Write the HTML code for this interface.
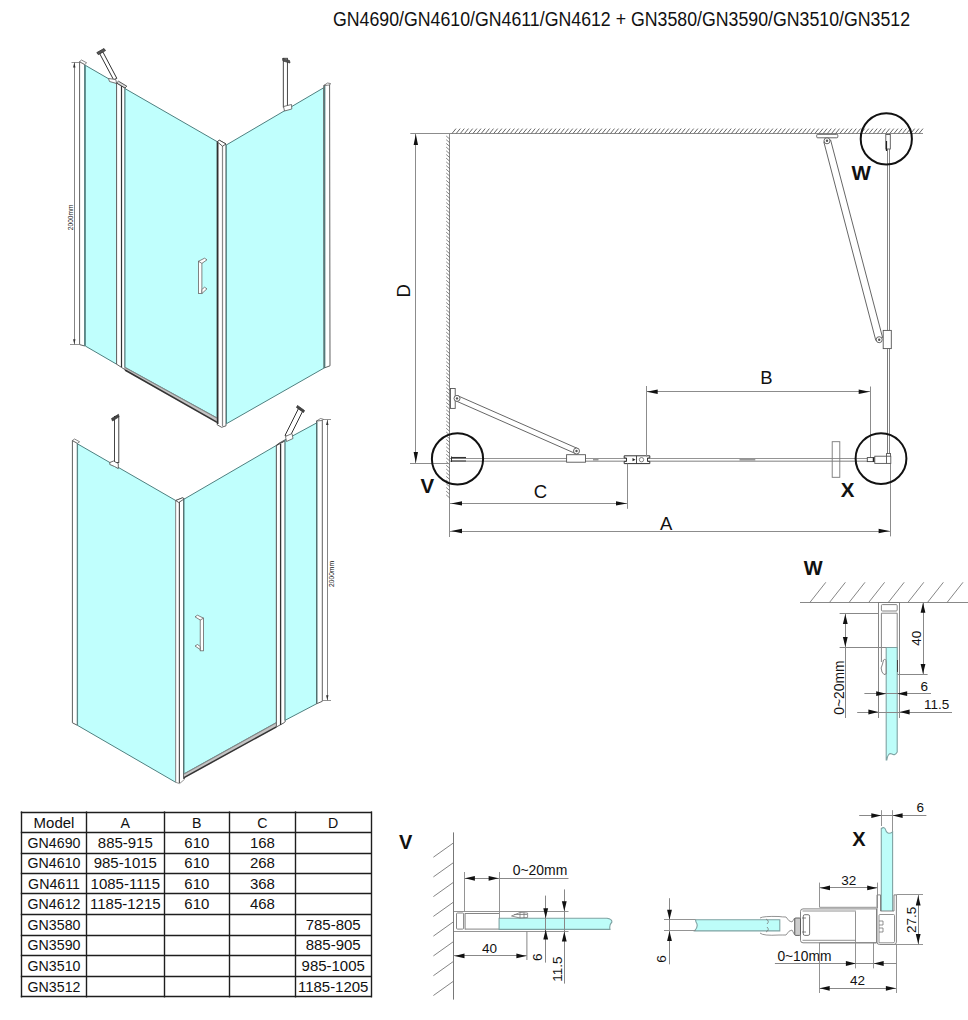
<!DOCTYPE html><html><head><meta charset="utf-8"><style>html,body{margin:0;padding:0;background:#fff;}svg{display:block;}</style></head><body>
<svg width="968" height="1020" viewBox="0 0 968 1020">
<rect width="968" height="1020" fill="#fff"/>
<text x="333.0" y="26.0" font-family="Liberation Sans" font-size="19.5" font-weight="normal" text-anchor="start" fill="#111" textLength="577" lengthAdjust="spacingAndGlyphs">GN4690/GN4610/GN4611/GN4612 + GN3580/GN3590/GN3510/GN3512</text>
<polygon points="79.6,61.7 84.8,64.5 84.8,346.0 79.6,344.6" fill="#fff" stroke="#606060" stroke-width="1.0" />
<line x1="84.8" y1="65.0" x2="84.8" y2="346.0" stroke="#5b8888" stroke-width="1.3" />
<polygon points="85.3,65.3 116.6,83.4 116.6,364.2 85.3,346.0" fill="#c0fffd" stroke="#4f8080" stroke-width="1.0" />
<polygon points="116.6,83.0 125.0,88.0 125.0,369.7 116.6,364.2" fill="#fff" stroke="#606060" stroke-width="1.0" />
<line x1="121.5" y1="86.0" x2="121.5" y2="367.0" stroke="#333" stroke-width="1.2" />
<polygon points="125.0,88.6 217.2,141.7 217.2,418.0 125.0,367.3" fill="#c0fffd" stroke="#4f8080" stroke-width="1.0" />
<polygon points="125.0,367.3 217.2,418.0 217.2,423.3 125.0,370.8" fill="#c4c4c4" stroke="none" stroke-width="1.0" />
<line x1="125.0" y1="367.6" x2="217.2" y2="418.3" stroke="#777" stroke-width="0.8" />
<line x1="125.0" y1="370.0" x2="217.2" y2="422.4" stroke="#333" stroke-width="1.5" />
<polygon points="217.2,141.7 219.5,140.3 226.0,144.0 226.0,425.8 221.6,427.3 217.2,424.8" fill="#fff" stroke="#606060" stroke-width="1.0" />
<line x1="217.8" y1="142.0" x2="217.8" y2="424.0" stroke="#222" stroke-width="1.3" />
<line x1="222.5" y1="146.0" x2="222.5" y2="426.0" stroke="#888" stroke-width="1.2" />
<polygon points="217.2,141.7 219.5,140.3 226.0,144.0 222.5,146.2" fill="#fff" stroke="#333" stroke-width="0.8" />
<polygon points="226.3,145.0 323.8,87.7 324.1,368.0 226.5,423.7" fill="#c0fffd" stroke="#4f8080" stroke-width="1.0" />
<polygon points="323.8,85.5 329.6,83.9 330.0,365.8 324.1,368.0" fill="#fff" stroke="#606060" stroke-width="1.0" />
<line x1="324.7" y1="86.0" x2="324.7" y2="368.0" stroke="#4f7777" stroke-width="1.3" />
<line x1="74.5" y1="62.2" x2="74.5" y2="344.6" stroke="#777" stroke-width="0.9" />
<line x1="71.5" y1="62.5" x2="79.6" y2="62.5" stroke="#777" stroke-width="0.8" />
<line x1="70.0" y1="344.5" x2="79.6" y2="344.5" stroke="#777" stroke-width="0.8" />
<polygon points="74.3,62.5 75.5,67.5 73.1,67.5" fill="#333" stroke="none" stroke-width="1.0" />
<polygon points="74.3,344.3 73.1,339.3 75.5,339.3" fill="#333" stroke="none" stroke-width="1.0" />
<text x="72.9" y="217.4" font-family="Liberation Sans" font-size="7.2" font-weight="normal" text-anchor="middle" fill="#111" transform="rotate(-90 72.9 217.4)" textLength="25.5" lengthAdjust="spacingAndGlyphs">2000mm</text>
<rect x="198.5" y="261.3" width="3.4" height="32.2" rx="0" fill="#fff" stroke="#666" stroke-width="0.8"/>
<polygon points="198.5,261.3 204.5,258.2 207.0,259.8 201.9,263.4" fill="#fff" stroke="#666" stroke-width="0.8" />
<polygon points="201.9,289.5 204.5,287.2 207.0,288.8 201.9,293.5" fill="#fff" stroke="#666" stroke-width="0.8" />
<polygon points="99.5,53.3 102.8,51.8 116.8,78.3 113.6,79.8" fill="#fff" stroke="#333" stroke-width="1.0" />
<polygon points="96.8,52.6 104.0,48.5 105.5,50.6 98.3,54.7" fill="#555" stroke="#333" stroke-width="0.8" />
<polygon points="108.5,78.5 115.8,79.5 116.6,83.5 109.5,81.5" fill="#fff" stroke="#555" stroke-width="0.8" />
<polygon points="79.6,61.7 81.5,60.0 86.6,62.8 84.8,64.5" fill="#fff" stroke="#555" stroke-width="0.7" />
<polygon points="116.6,83.0 118.5,81.2 126.8,86.2 125.0,88.0" fill="#ddd" stroke="#333" stroke-width="0.8" />
<polygon points="323.8,85.5 327.5,83.0 330.5,83.5 329.6,85.0" fill="#fff" stroke="#555" stroke-width="0.7" />
<rect x="283.3" y="58.3" width="4.1" height="48.7" rx="0" fill="#fff" stroke="#333" stroke-width="0.9"/>
<polygon points="282.5,58.5 289.5,60.5 290.0,63.0 283.0,61.0" fill="#555" stroke="#333" stroke-width="0.7" />
<polygon points="283.5,106.5 291.5,104.5 291.8,109.0 284.5,111.0" fill="#fff" stroke="#555" stroke-width="0.8" />
<polygon points="72.4,440.5 77.4,443.3 77.4,725.3 72.4,722.8" fill="#fff" stroke="#606060" stroke-width="1.0" />
<polygon points="72.4,440.5 74.6,439.0 79.6,441.8 77.4,443.3" fill="#fff" stroke="#555" stroke-width="0.7" />
<polygon points="77.4,443.8 175.7,500.5 175.7,782.3 77.4,725.3" fill="#c0fffd" stroke="#4f8080" stroke-width="1.0" />
<line x1="77.5" y1="444.0" x2="77.5" y2="725.0" stroke="#5b8888" stroke-width="1.1" />
<polygon points="175.7,500.5 182.5,497.8 184.3,498.8 184.3,779.5 179.6,783.6 175.7,782.3" fill="#fff" stroke="#888" stroke-width="0.9" />
<line x1="179.4" y1="502.0" x2="179.4" y2="783.0" stroke="#555" stroke-width="1.2" />
<line x1="184.0" y1="499.0" x2="184.0" y2="779.0" stroke="#222" stroke-width="1.3" />
<polygon points="175.7,500.5 182.5,497.8 184.3,498.8 178.8,502.5" fill="#fff" stroke="#333" stroke-width="0.8" />
<polygon points="184.0,499.2 276.4,445.4 276.4,722.5 184.0,773.8" fill="#c0fffd" stroke="#4f8080" stroke-width="1.0" />
<polygon points="184.0,773.8 276.4,722.5 276.4,727.5 184.0,778.6" fill="#c4c4c4" stroke="none" stroke-width="1.0" />
<line x1="184.0" y1="774.1" x2="276.4" y2="722.8" stroke="#777" stroke-width="0.8" />
<line x1="184.0" y1="777.6" x2="276.4" y2="726.8" stroke="#333" stroke-width="1.5" />
<polygon points="276.4,445.4 284.3,441.2 285.1,441.2 285.1,722.0 284.5,722.5 276.4,727.0" fill="#fff" stroke="#606060" stroke-width="1.0" />
<line x1="280.6" y1="444.0" x2="280.6" y2="725.0" stroke="#333" stroke-width="1.3" />
<polygon points="276.4,445.4 278.5,443.5 286.5,439.0 284.3,441.2" fill="#ddd" stroke="#333" stroke-width="0.8" />
<polygon points="285.1,440.0 316.5,423.0 316.5,703.8 285.1,720.3" fill="#c0fffd" stroke="#4f8080" stroke-width="1.0" />
<polygon points="316.5,421.0 322.3,419.8 322.3,701.3 316.5,703.8" fill="#fff" stroke="#606060" stroke-width="1.0" />
<line x1="316.9" y1="422.0" x2="316.9" y2="703.0" stroke="#4f7777" stroke-width="1.2" />
<polygon points="316.5,421.0 320.5,418.5 323.5,419.3 322.3,420.5" fill="#fff" stroke="#555" stroke-width="0.7" />
<line x1="327.5" y1="419.8" x2="327.5" y2="700.5" stroke="#777" stroke-width="0.9" />
<line x1="322.5" y1="419.5" x2="331.0" y2="419.5" stroke="#777" stroke-width="0.8" />
<line x1="322.5" y1="700.5" x2="331.0" y2="700.5" stroke="#777" stroke-width="0.8" />
<polygon points="327.3,420.1 328.5,425.1 326.1,425.1" fill="#333" stroke="none" stroke-width="1.0" />
<polygon points="327.3,700.2 326.1,695.2 328.5,695.2" fill="#333" stroke="none" stroke-width="1.0" />
<text x="333.6" y="574.0" font-family="Liberation Sans" font-size="7.2" font-weight="normal" text-anchor="middle" fill="#111" transform="rotate(-90 333.6 574.0)" textLength="26" lengthAdjust="spacingAndGlyphs">2000mm</text>
<rect x="200.2" y="618.2" width="3.4" height="32.6" rx="0" fill="#fff" stroke="#666" stroke-width="0.8"/>
<polygon points="203.6,618.2 197.5,615.2 195.0,616.8 200.2,620.0" fill="#fff" stroke="#666" stroke-width="0.8" />
<polygon points="200.2,646.5 197.5,644.5 195.0,646.0 200.2,649.5" fill="#fff" stroke="#666" stroke-width="0.8" />
<rect x="114.5" y="416.5" width="4.3" height="46.0" rx="0" fill="#fff" stroke="#333" stroke-width="0.9"/>
<polygon points="111.5,418.5 118.5,414.3 119.0,416.8 112.5,421.0" fill="#444" stroke="#333" stroke-width="0.7" />
<polygon points="109.8,462.5 113.5,461.0 118.3,463.5 118.3,468.6 114.5,466.5 109.8,464.5" fill="#fff" stroke="#444" stroke-width="0.8" />
<polygon points="298.5,408.5 303.0,410.5 289.5,437.5 285.0,435.5" fill="#fff" stroke="#333" stroke-width="1.0" />
<polygon points="297.5,405.5 304.5,410.5 303.5,412.5 296.5,407.5" fill="#444" stroke="#333" stroke-width="0.8" />
<polygon points="285.5,436.5 292.0,433.5 293.0,438.5 286.5,441.5" fill="#fff" stroke="#555" stroke-width="0.8" />
<line x1="410.3" y1="133.5" x2="923.0" y2="133.5" stroke="#8c8c8c" stroke-width="1.1" />
<path d="M452.0 133.5L456.0 128.6 M456.2 133.5L460.2 128.6 M460.3 133.5L464.3 128.6 M464.5 133.5L468.5 128.6 M468.7 133.5L472.7 128.6 M472.9 133.5L476.9 128.6 M477.0 133.5L481.0 128.6 M481.2 133.5L485.2 128.6 M485.4 133.5L489.4 128.6 M489.5 133.5L493.5 128.6 M493.7 133.5L497.7 128.6 M497.9 133.5L501.9 128.6 M502.0 133.5L506.0 128.6 M506.2 133.5L510.2 128.6 M510.4 133.5L514.4 128.6 M514.6 133.5L518.6 128.6 M518.7 133.5L522.7 128.6 M522.9 133.5L526.9 128.6 M527.1 133.5L531.1 128.6 M531.2 133.5L535.2 128.6 M535.4 133.5L539.4 128.6 M539.6 133.5L543.6 128.6 M543.7 133.5L547.7 128.6 M547.9 133.5L551.9 128.6 M552.1 133.5L556.1 128.6 M556.2 133.5L560.2 128.6 M560.4 133.5L564.4 128.6 M564.6 133.5L568.6 128.6 M568.8 133.5L572.8 128.6 M572.9 133.5L576.9 128.6 M577.1 133.5L581.1 128.6 M581.3 133.5L585.3 128.6 M585.4 133.5L589.4 128.6 M589.6 133.5L593.6 128.6 M593.8 133.5L597.8 128.6 M597.9 133.5L601.9 128.6 M602.1 133.5L606.1 128.6 M606.3 133.5L610.3 128.6 M610.5 133.5L614.5 128.6 M614.6 133.5L618.6 128.6 M618.8 133.5L622.8 128.6 M623.0 133.5L627.0 128.6 M627.1 133.5L631.1 128.6 M631.3 133.5L635.3 128.6 M635.5 133.5L639.5 128.6 M639.6 133.5L643.6 128.6 M643.8 133.5L647.8 128.6 M648.0 133.5L652.0 128.6 M652.2 133.5L656.2 128.6 M656.3 133.5L660.3 128.6 M660.5 133.5L664.5 128.6 M664.7 133.5L668.7 128.6 M668.8 133.5L672.8 128.6 M673.0 133.5L677.0 128.6 M677.2 133.5L681.2 128.6 M681.3 133.5L685.3 128.6 M685.5 133.5L689.5 128.6 M689.7 133.5L693.7 128.6 M693.9 133.5L697.9 128.6 M698.0 133.5L702.0 128.6 M702.2 133.5L706.2 128.6 M706.4 133.5L710.4 128.6 M710.5 133.5L714.5 128.6 M714.7 133.5L718.7 128.6 M718.9 133.5L722.9 128.6 M723.0 133.5L727.0 128.6 M727.2 133.5L731.2 128.6 M731.4 133.5L735.4 128.6 M735.6 133.5L739.6 128.6 M739.7 133.5L743.7 128.6 M743.9 133.5L747.9 128.6 M748.1 133.5L752.1 128.6 M752.2 133.5L756.2 128.6 M756.4 133.5L760.4 128.6 M760.6 133.5L764.6 128.6 M764.7 133.5L768.7 128.6 M768.9 133.5L772.9 128.6 M773.1 133.5L777.1 128.6 M777.3 133.5L781.3 128.6 M781.4 133.5L785.4 128.6 M785.6 133.5L789.6 128.6 M789.8 133.5L793.8 128.6 M793.9 133.5L797.9 128.6 M798.1 133.5L802.1 128.6 M802.3 133.5L806.3 128.6 M806.4 133.5L810.4 128.6 M810.6 133.5L814.6 128.6 M814.8 133.5L818.8 128.6 M819.0 133.5L823.0 128.6 M823.1 133.5L827.1 128.6 M827.3 133.5L831.3 128.6 M831.5 133.5L835.5 128.6 M835.6 133.5L839.6 128.6 M839.8 133.5L843.8 128.6 M844.0 133.5L848.0 128.6 M848.1 133.5L852.1 128.6 M852.3 133.5L856.3 128.6 M856.5 133.5L860.5 128.6 M860.7 133.5L864.7 128.6 M864.8 133.5L868.8 128.6 M869.0 133.5L873.0 128.6 M873.2 133.5L877.2 128.6 M877.3 133.5L881.3 128.6 M881.5 133.5L885.5 128.6 M885.7 133.5L889.7 128.6 M889.8 133.5L893.8 128.6 M894.0 133.5L898.0 128.6 M898.2 133.5L902.2 128.6 M902.4 133.5L906.4 128.6 M906.5 133.5L910.5 128.6 M910.7 133.5L914.7 128.6 M914.9 133.5L918.9 128.6 M919.0 133.5L923.0 128.6" stroke="#555" stroke-width="0.9" fill="none"/>
<line x1="449.5" y1="133.0" x2="449.5" y2="537.0" stroke="#8c8c8c" stroke-width="1.0" />
<path d="M449.9 139.2L446.2 136.0 M449.9 142.9L446.2 139.7 M449.9 146.6L446.2 143.4 M449.9 150.3L446.2 147.1 M449.9 154.0L446.2 150.8 M449.9 157.7L446.2 154.5 M449.9 161.4L446.2 158.2 M449.9 165.1L446.2 161.9 M449.9 168.8L446.2 165.6 M449.9 172.5L446.2 169.3 M449.9 176.2L446.2 173.0 M449.9 179.9L446.2 176.7 M449.9 183.6L446.2 180.4 M449.9 187.3L446.2 184.1 M449.9 191.0L446.2 187.8 M449.9 194.7L446.2 191.5 M449.9 198.4L446.2 195.2 M449.9 202.1L446.2 198.9 M449.9 205.8L446.2 202.6 M449.9 209.5L446.2 206.3 M449.9 213.2L446.2 210.0 M449.9 216.9L446.2 213.7 M449.9 220.6L446.2 217.4 M449.9 224.3L446.2 221.1 M449.9 228.0L446.2 224.8 M449.9 231.7L446.2 228.5 M449.9 235.4L446.2 232.2 M449.9 239.1L446.2 235.9 M449.9 242.8L446.2 239.6 M449.9 246.5L446.2 243.3 M449.9 250.2L446.2 247.0 M449.9 253.9L446.2 250.7 M449.9 257.6L446.2 254.4 M449.9 261.3L446.2 258.1 M449.9 265.0L446.2 261.8 M449.9 268.7L446.2 265.5 M449.9 272.4L446.2 269.2 M449.9 276.1L446.2 272.9 M449.9 279.8L446.2 276.6 M449.9 283.5L446.2 280.3 M449.9 287.2L446.2 284.0 M449.9 290.9L446.2 287.7 M449.9 294.6L446.2 291.4 M449.9 298.3L446.2 295.1 M449.9 302.0L446.2 298.8 M449.9 305.7L446.2 302.5 M449.9 309.4L446.2 306.2 M449.9 313.1L446.2 309.9 M449.9 316.8L446.2 313.6 M449.9 320.5L446.2 317.3 M449.9 324.2L446.2 321.0 M449.9 327.9L446.2 324.7 M449.9 331.6L446.2 328.4 M449.9 335.3L446.2 332.1 M449.9 339.0L446.2 335.8 M449.9 342.7L446.2 339.5 M449.9 346.4L446.2 343.2 M449.9 350.1L446.2 346.9 M449.9 353.8L446.2 350.6 M449.9 357.5L446.2 354.3 M449.9 361.2L446.2 358.0 M449.9 364.9L446.2 361.7 M449.9 368.6L446.2 365.4 M449.9 372.3L446.2 369.1 M449.9 376.0L446.2 372.8 M449.9 379.7L446.2 376.5 M449.9 383.4L446.2 380.2 M449.9 387.1L446.2 383.9 M449.9 390.8L446.2 387.6 M449.9 394.5L446.2 391.3 M449.9 398.2L446.2 395.0 M449.9 401.9L446.2 398.7 M449.9 405.6L446.2 402.4 M449.9 409.3L446.2 406.1 M449.9 413.0L446.2 409.8 M449.9 416.7L446.2 413.5 M449.9 420.4L446.2 417.2 M449.9 424.1L446.2 420.9 M449.9 427.8L446.2 424.6 M449.9 431.5L446.2 428.3 M449.9 435.2L446.2 432.0 M449.9 438.9L446.2 435.7 M449.9 442.6L446.2 439.4 M449.9 446.3L446.2 443.1 M449.9 450.0L446.2 446.8 M449.9 453.7L446.2 450.5 M449.9 457.4L446.2 454.2 M449.9 461.1L446.2 457.9 M449.9 464.8L446.2 461.6 M449.9 468.5L446.2 465.3 M449.9 472.2L446.2 469.0 M449.9 475.9L446.2 472.7 M449.9 479.6L446.2 476.4 M449.9 483.3L446.2 480.1 M449.9 487.0L446.2 483.8 M449.9 490.7L446.2 487.5 M449.9 494.4L446.2 491.2 M449.9 498.1L446.2 494.9" stroke="#666" stroke-width="0.8" fill="none"/>
<line x1="415.5" y1="133.4" x2="415.5" y2="463.0" stroke="#8c8c8c" stroke-width="1.0" />
<polygon points="415.8,134.0 418.0,145.0 413.6,145.0" fill="#111" stroke="none" stroke-width="1.0" />
<polygon points="415.8,463.0 413.6,452.0 418.0,452.0" fill="#111" stroke="none" stroke-width="1.0" />
<line x1="410.0" y1="463.5" x2="449.9" y2="463.5" stroke="#8c8c8c" stroke-width="1.0" />
<text x="409.8" y="290.8" font-family="Liberation Sans" font-size="18.5" font-weight="normal" text-anchor="middle" fill="#111" transform="rotate(-90 409.8 290.8)">D</text>
<line x1="449.9" y1="458.5" x2="867.0" y2="458.5" stroke="#888" stroke-width="0.9" />
<line x1="449.9" y1="461.2" x2="867.0" y2="461.2" stroke="#aaa" stroke-width="1.4" />
<line x1="451.0" y1="457.6" x2="466.0" y2="457.6" stroke="#333" stroke-width="1.3" />
<line x1="451.0" y1="461.0" x2="466.0" y2="461.0" stroke="#555" stroke-width="1.3" />
<line x1="451.5" y1="456.5" x2="451.5" y2="462.0" stroke="#333" stroke-width="1.0" />
<rect x="450.5" y="388.5" width="4.7" height="19.9" rx="0" fill="#fff" stroke="#555" stroke-width="0.9"/>
<polygon points="458.1,395.9 455.9,400.9 575.4,453.5 577.6,448.5" fill="#fff" stroke="#555" stroke-width="0.9" />
<circle cx="457.0" cy="398.4" r="3.0" fill="#fff" stroke="#555" stroke-width="0.9"/>
<circle cx="457.0" cy="398.4" r="1.2" fill="#555" stroke="none" stroke-width="0"/>
<rect x="566.6" y="454.7" width="18.9" height="7.5" rx="0" fill="#fff" stroke="#555" stroke-width="0.9"/>
<circle cx="576.5" cy="451.0" r="3.0" fill="#fff" stroke="#555" stroke-width="0.9"/>
<circle cx="576.5" cy="451.0" r="1.2" fill="#555" stroke="none" stroke-width="0"/>
<path d="M624.2 455.8H649.8V458H647.5V461.4H649.8V463.6H624.2V461.4H626.5V458H624.2Z" fill="#fff" stroke="#333" stroke-width="1"/>
<line x1="636.5" y1="455.8" x2="636.5" y2="463.6" stroke="#333" stroke-width="0.9" />
<circle cx="641.5" cy="459.7" r="2.2" fill="#fff" stroke="#666" stroke-width="0.8"/>
<polygon points="635.5,459.7 632.5,461.3 632.5,458.1" fill="#222" stroke="none" stroke-width="1.0" />
<line x1="739.5" y1="459.8" x2="755.3" y2="459.8" stroke="#999" stroke-width="1.6" />
<line x1="593.0" y1="459.8" x2="598.5" y2="459.8" stroke="#999" stroke-width="1.6" />
<line x1="449.9" y1="503.5" x2="627.6" y2="503.5" stroke="#8c8c8c" stroke-width="1.0" />
<polygon points="451.0,503.4 462.0,501.2 462.0,505.6" fill="#111" stroke="none" stroke-width="1.0" />
<polygon points="627.0,503.4 616.0,505.6 616.0,501.2" fill="#111" stroke="none" stroke-width="1.0" />
<line x1="627.5" y1="463.6" x2="627.5" y2="508.8" stroke="#8c8c8c" stroke-width="1.0" />
<text x="540.5" y="497.6" font-family="Liberation Sans" font-size="18.5" font-weight="normal" text-anchor="middle" fill="#111">C</text>
<line x1="449.9" y1="531.5" x2="890.2" y2="531.5" stroke="#8c8c8c" stroke-width="1.0" />
<polygon points="451.0,531.0 462.0,528.8 462.0,533.2" fill="#111" stroke="none" stroke-width="1.0" />
<polygon points="889.6,531.0 878.6,533.2 878.6,528.8" fill="#111" stroke="none" stroke-width="1.0" />
<line x1="890.5" y1="463.0" x2="890.5" y2="536.4" stroke="#8c8c8c" stroke-width="1.0" />
<text x="666.2" y="529.6" font-family="Liberation Sans" font-size="18.5" font-weight="normal" text-anchor="middle" fill="#111">A</text>
<line x1="646.1" y1="391.5" x2="870.3" y2="391.5" stroke="#8c8c8c" stroke-width="1.0" />
<polygon points="646.7,391.7 657.7,389.5 657.7,393.9" fill="#111" stroke="none" stroke-width="1.0" />
<polygon points="869.7,391.7 858.7,393.9 858.7,389.5" fill="#111" stroke="none" stroke-width="1.0" />
<line x1="646.5" y1="386.0" x2="646.5" y2="456.7" stroke="#8c8c8c" stroke-width="1.0" />
<line x1="870.5" y1="386.5" x2="870.5" y2="458.0" stroke="#8c8c8c" stroke-width="1.0" />
<text x="766.4" y="384.2" font-family="Liberation Sans" font-size="18.5" font-weight="normal" text-anchor="middle" fill="#111">B</text>
<line x1="887.5" y1="134.0" x2="887.5" y2="453.5" stroke="#777" stroke-width="0.9" />
<line x1="889.5" y1="134.0" x2="889.5" y2="453.5" stroke="#777" stroke-width="0.9" />
<rect x="885.8" y="134.5" width="4.5" height="14.5" rx="0" fill="#fff" stroke="#555" stroke-width="0.9"/>
<line x1="886.5" y1="141.0" x2="886.5" y2="151.0" stroke="#222" stroke-width="1.2" />
<rect x="816.7" y="134.3" width="21.1" height="3.5" rx="1" fill="#fff" stroke="#555" stroke-width="0.9"/>
<polygon points="823.8,141.8 830.6,140.0 882.6,337.6 875.8,340.4" fill="#fff" stroke="#555" stroke-width="0.9" />
<circle cx="827.0" cy="140.8" r="3.0" fill="#fff" stroke="#555" stroke-width="0.9"/>
<circle cx="827.0" cy="140.8" r="1.2" fill="#555" stroke="none" stroke-width="0"/>
<rect x="883.2" y="330.4" width="8.1" height="18.2" rx="0" fill="#fff" stroke="#555" stroke-width="0.9"/>
<circle cx="879.2" cy="339.7" r="3.0" fill="#fff" stroke="#555" stroke-width="0.9"/>
<circle cx="879.2" cy="339.7" r="1.2" fill="#555" stroke="none" stroke-width="0"/>
<line x1="887.5" y1="350.0" x2="887.5" y2="453.5" stroke="#777" stroke-width="0.9" />
<rect x="832.2" y="441.7" width="7.6" height="35.6" rx="0" fill="none" stroke="#777" stroke-width="0.9"/>
<rect x="867.3" y="457.6" width="7.5" height="4.0" rx="0" fill="#fff" stroke="#444" stroke-width="0.9"/>
<line x1="873.5" y1="457.5" x2="873.5" y2="461.8" stroke="#222" stroke-width="1.5" />
<rect x="874.8" y="456.2" width="16.0" height="7.2" rx="0" fill="#fff" stroke="#555" stroke-width="0.9"/>
<line x1="886.5" y1="453.2" x2="886.5" y2="463.4" stroke="#555" stroke-width="0.9" />
<line x1="886.6" y1="453.5" x2="890.8" y2="453.5" stroke="#555" stroke-width="0.9" />
<line x1="890.5" y1="453.2" x2="890.5" y2="456.2" stroke="#555" stroke-width="0.9" />
<circle cx="457.5" cy="458.9" r="25.6" fill="none" stroke="#111" stroke-width="2"/>
<circle cx="886.3" cy="138.9" r="25.6" fill="none" stroke="#111" stroke-width="2"/>
<circle cx="881.0" cy="458.6" r="25.4" fill="none" stroke="#111" stroke-width="2"/>
<text x="427.3" y="492.8" font-family="Liberation Sans" font-size="20.5" font-weight="bold" text-anchor="middle" fill="#111">V</text>
<text x="861.2" y="179.6" font-family="Liberation Sans" font-size="20.5" font-weight="bold" text-anchor="middle" fill="#111">W</text>
<text x="847.7" y="497.0" font-family="Liberation Sans" font-size="20.5" font-weight="bold" text-anchor="middle" fill="#111">X</text>
<line x1="21.5" y1="811.4" x2="21.5" y2="997.4000000000001" stroke="#1e1e1e" stroke-width="1.4"/>
<line x1="86.5" y1="811.4" x2="86.5" y2="997.4000000000001" stroke="#1e1e1e" stroke-width="1.4"/>
<line x1="164.5" y1="811.4" x2="164.5" y2="997.4000000000001" stroke="#1e1e1e" stroke-width="1.4"/>
<line x1="229.5" y1="811.4" x2="229.5" y2="997.4000000000001" stroke="#1e1e1e" stroke-width="1.4"/>
<line x1="295.5" y1="811.4" x2="295.5" y2="997.4000000000001" stroke="#1e1e1e" stroke-width="1.4"/>
<line x1="371.5" y1="811.4" x2="371.5" y2="997.4000000000001" stroke="#1e1e1e" stroke-width="1.4"/>
<line x1="20.8" y1="812.5" x2="371.9" y2="812.5" stroke="#1e1e1e" stroke-width="1.4"/>
<line x1="20.8" y1="832.5" x2="371.9" y2="832.5" stroke="#1e1e1e" stroke-width="1.4"/>
<line x1="20.8" y1="853.5" x2="371.9" y2="853.5" stroke="#1e1e1e" stroke-width="1.4"/>
<line x1="20.8" y1="873.5" x2="371.9" y2="873.5" stroke="#1e1e1e" stroke-width="1.4"/>
<line x1="20.8" y1="893.5" x2="371.9" y2="893.5" stroke="#1e1e1e" stroke-width="1.4"/>
<line x1="20.8" y1="914.5" x2="371.9" y2="914.5" stroke="#1e1e1e" stroke-width="1.4"/>
<line x1="20.8" y1="935.5" x2="371.9" y2="935.5" stroke="#1e1e1e" stroke-width="1.4"/>
<line x1="20.8" y1="955.5" x2="371.9" y2="955.5" stroke="#1e1e1e" stroke-width="1.4"/>
<line x1="20.8" y1="976.5" x2="371.9" y2="976.5" stroke="#1e1e1e" stroke-width="1.4"/>
<line x1="20.8" y1="996.5" x2="371.9" y2="996.5" stroke="#1e1e1e" stroke-width="1.4"/>
<text x="54.0" y="827.5" font-family="Liberation Sans" font-size="14.2" font-weight="normal" text-anchor="middle" fill="#111" textLength="40.8" lengthAdjust="spacingAndGlyphs">Model</text>
<text x="125.3" y="827.5" font-family="Liberation Sans" font-size="14.2" font-weight="normal" text-anchor="middle" fill="#111">A</text>
<text x="196.8" y="827.5" font-family="Liberation Sans" font-size="14.2" font-weight="normal" text-anchor="middle" fill="#111">B</text>
<text x="262.4" y="827.5" font-family="Liberation Sans" font-size="14.2" font-weight="normal" text-anchor="middle" fill="#111">C</text>
<text x="333.2" y="827.5" font-family="Liberation Sans" font-size="14.2" font-weight="normal" text-anchor="middle" fill="#111">D</text>
<text x="54.0" y="847.9" font-family="Liberation Sans" font-size="14.2" font-weight="normal" text-anchor="middle" fill="#111">GN4690</text>
<text x="125.3" y="847.9" font-family="Liberation Sans" font-size="14.2" font-weight="normal" text-anchor="middle" fill="#111" textLength="55.0" lengthAdjust="spacingAndGlyphs">885-915</text>
<text x="196.8" y="847.9" font-family="Liberation Sans" font-size="14.2" font-weight="normal" text-anchor="middle" fill="#111" textLength="25.0" lengthAdjust="spacingAndGlyphs">610</text>
<text x="262.4" y="847.9" font-family="Liberation Sans" font-size="14.2" font-weight="normal" text-anchor="middle" fill="#111" textLength="25.0" lengthAdjust="spacingAndGlyphs">168</text>
<text x="54.0" y="868.4" font-family="Liberation Sans" font-size="14.2" font-weight="normal" text-anchor="middle" fill="#111">GN4610</text>
<text x="125.3" y="868.4" font-family="Liberation Sans" font-size="14.2" font-weight="normal" text-anchor="middle" fill="#111" textLength="63.3" lengthAdjust="spacingAndGlyphs">985-1015</text>
<text x="196.8" y="868.4" font-family="Liberation Sans" font-size="14.2" font-weight="normal" text-anchor="middle" fill="#111" textLength="25.0" lengthAdjust="spacingAndGlyphs">610</text>
<text x="262.4" y="868.4" font-family="Liberation Sans" font-size="14.2" font-weight="normal" text-anchor="middle" fill="#111" textLength="25.0" lengthAdjust="spacingAndGlyphs">268</text>
<text x="54.0" y="888.8" font-family="Liberation Sans" font-size="14.2" font-weight="normal" text-anchor="middle" fill="#111">GN4611</text>
<text x="125.3" y="888.8" font-family="Liberation Sans" font-size="14.2" font-weight="normal" text-anchor="middle" fill="#111" textLength="69.4" lengthAdjust="spacingAndGlyphs">1085-1115</text>
<text x="196.8" y="888.8" font-family="Liberation Sans" font-size="14.2" font-weight="normal" text-anchor="middle" fill="#111" textLength="25.0" lengthAdjust="spacingAndGlyphs">610</text>
<text x="262.4" y="888.8" font-family="Liberation Sans" font-size="14.2" font-weight="normal" text-anchor="middle" fill="#111" textLength="25.0" lengthAdjust="spacingAndGlyphs">368</text>
<text x="54.0" y="909.3" font-family="Liberation Sans" font-size="14.2" font-weight="normal" text-anchor="middle" fill="#111">GN4612</text>
<text x="125.3" y="909.3" font-family="Liberation Sans" font-size="14.2" font-weight="normal" text-anchor="middle" fill="#111" textLength="70.5" lengthAdjust="spacingAndGlyphs">1185-1215</text>
<text x="196.8" y="909.3" font-family="Liberation Sans" font-size="14.2" font-weight="normal" text-anchor="middle" fill="#111" textLength="25.0" lengthAdjust="spacingAndGlyphs">610</text>
<text x="262.4" y="909.3" font-family="Liberation Sans" font-size="14.2" font-weight="normal" text-anchor="middle" fill="#111" textLength="25.0" lengthAdjust="spacingAndGlyphs">468</text>
<text x="54.0" y="929.7" font-family="Liberation Sans" font-size="14.2" font-weight="normal" text-anchor="middle" fill="#111">GN3580</text>
<text x="333.2" y="929.7" font-family="Liberation Sans" font-size="14.2" font-weight="normal" text-anchor="middle" fill="#111" textLength="55.0" lengthAdjust="spacingAndGlyphs">785-805</text>
<text x="54.0" y="950.4" font-family="Liberation Sans" font-size="14.2" font-weight="normal" text-anchor="middle" fill="#111">GN3590</text>
<text x="333.2" y="950.4" font-family="Liberation Sans" font-size="14.2" font-weight="normal" text-anchor="middle" fill="#111" textLength="55.0" lengthAdjust="spacingAndGlyphs">885-905</text>
<text x="54.0" y="970.8" font-family="Liberation Sans" font-size="14.2" font-weight="normal" text-anchor="middle" fill="#111">GN3510</text>
<text x="333.2" y="970.8" font-family="Liberation Sans" font-size="14.2" font-weight="normal" text-anchor="middle" fill="#111" textLength="63.3" lengthAdjust="spacingAndGlyphs">985-1005</text>
<text x="54.0" y="991.6" font-family="Liberation Sans" font-size="14.2" font-weight="normal" text-anchor="middle" fill="#111">GN3512</text>
<text x="333.2" y="991.6" font-family="Liberation Sans" font-size="14.2" font-weight="normal" text-anchor="middle" fill="#111" textLength="70.5" lengthAdjust="spacingAndGlyphs">1185-1205</text>
<text x="813.2" y="574.5" font-family="Liberation Sans" font-size="20" font-weight="bold" text-anchor="middle" fill="#111">W</text>
<line x1="800.0" y1="602.5" x2="968.0" y2="602.5" stroke="#888" stroke-width="1.0" />
<line x1="810.0" y1="602.3" x2="825.8" y2="582.3" stroke="#777" stroke-width="0.9" />
<line x1="829.6" y1="602.3" x2="845.4" y2="582.3" stroke="#777" stroke-width="0.9" />
<line x1="849.2" y1="602.3" x2="865.0" y2="582.3" stroke="#777" stroke-width="0.9" />
<line x1="868.8" y1="602.3" x2="884.6" y2="582.3" stroke="#777" stroke-width="0.9" />
<line x1="888.4" y1="602.3" x2="904.2" y2="582.3" stroke="#777" stroke-width="0.9" />
<line x1="908.0" y1="602.3" x2="923.8" y2="582.3" stroke="#777" stroke-width="0.9" />
<line x1="927.6" y1="602.3" x2="943.4" y2="582.3" stroke="#777" stroke-width="0.9" />
<line x1="947.2" y1="602.3" x2="963.0" y2="582.3" stroke="#777" stroke-width="0.9" />
<path d="M878.5 602.5V718 M899.5 602.5V674.5 M878.5 602.5H899.5 M881.4 613.2V662 M881.4 613.2H897.2V674.5H900" fill="none" stroke="#777" stroke-width="0.9"/>
<rect x="881.4" y="604.6" width="15.8" height="6.4" rx="1" fill="#fff" stroke="#777" stroke-width="0.9"/>
<path d="M886.2 647.5H897.2V752 Q895 756 892 754 Q888 752 886.8 760 L886.2 760Z" fill="#bdfdf9" stroke="#7fa3a3" stroke-width="1.1"/>
<path d="M882 672 Q880 668 882.5 664 L883.5 660 Q886 658 886 662 V674 Q884 676 882 672Z" fill="#fff" stroke="#666" stroke-width="0.8"/>
<line x1="897.5" y1="660.0" x2="897.5" y2="672.0" stroke="#444" stroke-width="1.0" />
<line x1="923.5" y1="602.3" x2="923.5" y2="674.5" stroke="#888" stroke-width="1.0" />
<polygon points="923.0,602.8 925.4,612.8 920.6,612.8" fill="#111" stroke="none" stroke-width="1.0" />
<polygon points="923.0,674.0 920.6,664.0 925.4,664.0" fill="#111" stroke="none" stroke-width="1.0" />
<line x1="900.0" y1="674.5" x2="927.6" y2="674.5" stroke="#888" stroke-width="1.0" />
<text x="921.3" y="638.2" font-family="Liberation Sans" font-size="13.5" font-weight="normal" text-anchor="middle" fill="#111" transform="rotate(-90 921.3 638.2)">40</text>
<line x1="845.5" y1="613.6" x2="845.5" y2="718.0" stroke="#888" stroke-width="1.0" />
<polygon points="845.3,614.1 847.7,624.1 842.9,624.1" fill="#111" stroke="none" stroke-width="1.0" />
<polygon points="845.3,647.0 842.9,637.0 847.7,637.0" fill="#111" stroke="none" stroke-width="1.0" />
<line x1="839.6" y1="613.5" x2="878.4" y2="613.5" stroke="#888" stroke-width="1.0" />
<line x1="839.6" y1="647.5" x2="886.2" y2="647.5" stroke="#888" stroke-width="1.0" />
<text x="844.1" y="687.6" font-family="Liberation Sans" font-size="13.8" font-weight="normal" text-anchor="middle" fill="#111" transform="rotate(-90 844.1 687.6)" textLength="54.2" lengthAdjust="spacingAndGlyphs">0~20mm</text>
<line x1="899.5" y1="674.5" x2="899.5" y2="718.0" stroke="#888" stroke-width="1.0" />
<line x1="864.4" y1="693.5" x2="931.0" y2="693.5" stroke="#888" stroke-width="1.0" />
<polygon points="886.2,693.7 876.2,696.1 876.2,691.3" fill="#111" stroke="none" stroke-width="1.0" />
<polygon points="897.2,693.7 907.2,691.3 907.2,696.1" fill="#111" stroke="none" stroke-width="1.0" />
<text x="924.2" y="691.0" font-family="Liberation Sans" font-size="13.5" font-weight="normal" text-anchor="middle" fill="#111">6</text>
<line x1="857.2" y1="712.5" x2="952.0" y2="712.5" stroke="#888" stroke-width="1.0" />
<polygon points="878.4,712.0 868.4,714.4 868.4,709.6" fill="#111" stroke="none" stroke-width="1.0" />
<polygon points="899.6,712.0 909.6,709.6 909.6,714.4" fill="#111" stroke="none" stroke-width="1.0" />
<text x="936.6" y="709.0" font-family="Liberation Sans" font-size="13.5" font-weight="normal" text-anchor="middle" fill="#111">11.5</text>
<text x="405.6" y="848.6" font-family="Liberation Sans" font-size="20" font-weight="bold" text-anchor="middle" fill="#111">V</text>
<line x1="453.5" y1="832.4" x2="453.5" y2="999.6" stroke="#777" stroke-width="1.0" />
<line x1="453.6" y1="842.8" x2="433.4" y2="857.2" stroke="#777" stroke-width="0.9" />
<line x1="453.6" y1="862.5" x2="433.4" y2="876.9" stroke="#777" stroke-width="0.9" />
<line x1="453.6" y1="882.2" x2="433.4" y2="896.6" stroke="#777" stroke-width="0.9" />
<line x1="453.6" y1="902.0" x2="433.4" y2="916.4" stroke="#777" stroke-width="0.9" />
<line x1="453.6" y1="921.7" x2="433.4" y2="936.1" stroke="#777" stroke-width="0.9" />
<line x1="453.6" y1="941.5" x2="433.4" y2="955.9" stroke="#777" stroke-width="0.9" />
<line x1="453.6" y1="961.3" x2="433.4" y2="975.7" stroke="#777" stroke-width="0.9" />
<line x1="453.6" y1="981.1" x2="433.4" y2="995.5" stroke="#777" stroke-width="0.9" />
<line x1="454.0" y1="911.5" x2="568.5" y2="911.5" stroke="#888" stroke-width="0.9" />
<line x1="454.0" y1="931.5" x2="568.5" y2="931.5" stroke="#888" stroke-width="0.9" />
<path d="M526.9 931.6V960 M465.1 913V929.5 M465.1 913.5H499 M465.1 929.1H499.1" fill="none" stroke="#777" stroke-width="0.9"/>
<rect x="456.5" y="913.0" width="7.1" height="16.1" rx="1" fill="#fff" stroke="#777" stroke-width="0.9"/>
<path d="M499.1 918.3H607 Q612 919 611.9 922 Q609 925 610 929.4 H499.1Z" fill="#bdfdf9" stroke="#7fa3a3" stroke-width="1.1"/>
<path d="M511.5 916 L520 912.5 L527.6 913 L527.6 917.5 L520 918 Z M514 914.5H527 M520 912.5 V918 M524 912.5V918" fill="none" stroke="#777" stroke-width="0.8"/>
<line x1="464.4" y1="878.5" x2="568.5" y2="878.5" stroke="#888" stroke-width="1.0" />
<polygon points="464.9,878.3 474.9,875.9 474.9,880.7" fill="#111" stroke="none" stroke-width="1.0" />
<polygon points="498.6,878.3 488.6,880.7 488.6,875.9" fill="#111" stroke="none" stroke-width="1.0" />
<line x1="464.5" y1="872.0" x2="464.5" y2="911.2" stroke="#888" stroke-width="0.9" />
<line x1="499.5" y1="872.0" x2="499.5" y2="918.3" stroke="#888" stroke-width="0.9" />
<text x="540.0" y="875.0" font-family="Liberation Sans" font-size="13.8" font-weight="normal" text-anchor="middle" fill="#111" textLength="54.6" lengthAdjust="spacingAndGlyphs">0~20mm</text>
<line x1="454.0" y1="955.5" x2="526.9" y2="955.5" stroke="#888" stroke-width="1.0" />
<polygon points="454.5,955.9 464.5,953.5 464.5,958.3" fill="#111" stroke="none" stroke-width="1.0" />
<polygon points="526.4,955.9 516.4,958.3 516.4,953.5" fill="#111" stroke="none" stroke-width="1.0" />
<text x="489.6" y="952.7" font-family="Liberation Sans" font-size="13.5" font-weight="normal" text-anchor="middle" fill="#111">40</text>
<line x1="545.5" y1="895.6" x2="545.5" y2="962.6" stroke="#888" stroke-width="1.0" />
<polygon points="545.7,918.3 543.3,908.3 548.1,908.3" fill="#111" stroke="none" stroke-width="1.0" />
<polygon points="545.7,929.4 548.1,939.4 543.3,939.4" fill="#111" stroke="none" stroke-width="1.0" />
<text x="541.7" y="957.2" font-family="Liberation Sans" font-size="13.5" font-weight="normal" text-anchor="middle" fill="#111" transform="rotate(-90 541.7 957.2)">6</text>
<line x1="564.5" y1="889.4" x2="564.5" y2="983.6" stroke="#888" stroke-width="1.0" />
<polygon points="564.3,911.2 561.9,901.2 566.7,901.2" fill="#111" stroke="none" stroke-width="1.0" />
<polygon points="564.3,931.6 566.7,941.6 561.9,941.6" fill="#111" stroke="none" stroke-width="1.0" />
<text x="561.6" y="969.2" font-family="Liberation Sans" font-size="13.5" font-weight="normal" text-anchor="middle" fill="#111" transform="rotate(-90 561.6 969.2)">11.5</text>
<text x="858.8" y="845.5" font-family="Liberation Sans" font-size="20" font-weight="bold" text-anchor="middle" fill="#111">X</text>
<line x1="859.2" y1="815.5" x2="926.4" y2="815.5" stroke="#888" stroke-width="1.0" />
<polygon points="881.3,815.6 871.3,818.0 871.3,813.2" fill="#111" stroke="none" stroke-width="1.0" />
<polygon points="892.6,815.6 902.6,813.2 902.6,818.0" fill="#111" stroke="none" stroke-width="1.0" />
<line x1="881.5" y1="810.2" x2="881.5" y2="826.0" stroke="#888" stroke-width="0.9" />
<line x1="892.5" y1="810.2" x2="892.5" y2="832.0" stroke="#888" stroke-width="0.9" />
<text x="920.3" y="812.0" font-family="Liberation Sans" font-size="13.5" font-weight="normal" text-anchor="middle" fill="#111">6</text>
<path d="M881.3 828.5 Q885 826 886 831 Q888 835 892.6 832 V912.3 H881.3Z" fill="#bdfdf9" stroke="#7fa3a3" stroke-width="1.1"/>
<path d="M877 894.9H880.5V911H894V894.9H896.4V942 Q896.4 944.5 894 944.5H879.5 Q877 944.5 877 942Z" fill="#fff" stroke="#777" stroke-width="0.9"/>
<path d="M879 915.5 Q879 914.5 880 914.5H893.5 Q894.5 914.5 894.5 915.5V941.5 Q894.5 942.8 893 942.8H879Z M879 921H883V925H879 M879 928H883V932H879" fill="none" stroke="#777" stroke-width="0.8"/>
<line x1="896.4" y1="894.5" x2="923.0" y2="894.5" stroke="#888" stroke-width="0.9" />
<line x1="880.0" y1="944.5" x2="923.0" y2="944.5" stroke="#888" stroke-width="0.9" />
<line x1="918.5" y1="894.9" x2="918.5" y2="944.5" stroke="#888" stroke-width="1.0" />
<polygon points="918.2,895.4 920.6,905.4 915.8,905.4" fill="#111" stroke="none" stroke-width="1.0" />
<polygon points="918.2,944.0 915.8,934.0 920.6,934.0" fill="#111" stroke="none" stroke-width="1.0" />
<text x="915.7" y="919.8" font-family="Liberation Sans" font-size="13.5" font-weight="normal" text-anchor="middle" fill="#111" transform="rotate(-90 915.7 919.8)">27.5</text>
<path d="M803 908.9H876.5V942.8H803 Q800.5 942.8 800.5 940.3V911.4 Q800.5 908.9 803 908.9Z" fill="#fff" stroke="#777" stroke-width="0.9"/>
<path d="M802.5 911H855.9 M802.5 940.3H855.9 M819.5 907.3H876.5 M819.5 942.8H876.5" fill="none" stroke="#777" stroke-width="0.8"/>
<line x1="855.5" y1="911.4" x2="855.5" y2="968.4" stroke="#888" stroke-width="0.9" />
<line x1="873.5" y1="942.8" x2="873.5" y2="968.4" stroke="#888" stroke-width="0.9" />
<rect x="803.3" y="914.7" width="6.3" height="20.7" rx="1.5" fill="#fff" stroke="#666" stroke-width="0.9"/>
<path d="M802 918H806 M802 932H806" stroke="#666" stroke-width="0.8"/>
<rect x="794.7" y="918.0" width="5.8" height="17.4" rx="1" fill="#ccc" stroke="#555" stroke-width="0.9"/>
<path d="M695.5 919.7H779.8V930.9H694.6 Q699 926 696 922Z" fill="#bdfdf9" stroke="#7fa3a3" stroke-width="1.1"/>
<path d="M760 918 Q763 916 779 916.5 Q782 917 786 917 Q789 922 792 922 L794.7 918 V935 L792 930 Q789 930 786 935 Q782 935 779 935 Q763 936 760 933 M766 919 Q770 921 767 924 M766 932 Q770 930 767 927" fill="none" stroke="#777" stroke-width="0.8"/>
<line x1="664.0" y1="919.5" x2="695.5" y2="919.5" stroke="#888" stroke-width="0.9" />
<line x1="664.0" y1="930.5" x2="695.5" y2="930.5" stroke="#888" stroke-width="0.9" />
<line x1="669.5" y1="898.2" x2="669.5" y2="964.3" stroke="#888" stroke-width="1.0" />
<polygon points="669.5,919.7 667.1,909.7 671.9,909.7" fill="#111" stroke="none" stroke-width="1.0" />
<polygon points="669.5,930.9 671.9,940.9 667.1,940.9" fill="#111" stroke="none" stroke-width="1.0" />
<text x="666.2" y="958.9" font-family="Liberation Sans" font-size="13.5" font-weight="normal" text-anchor="middle" fill="#111" transform="rotate(-90 666.2 958.9)">6</text>
<line x1="819.5" y1="887.5" x2="877.7" y2="887.5" stroke="#888" stroke-width="1.0" />
<polygon points="820.0,887.9 830.0,885.5 830.0,890.3" fill="#111" stroke="none" stroke-width="1.0" />
<polygon points="877.2,887.9 867.2,890.3 867.2,885.5" fill="#111" stroke="none" stroke-width="1.0" />
<line x1="819.5" y1="882.6" x2="819.5" y2="907.3" stroke="#888" stroke-width="0.9" />
<line x1="877.5" y1="882.6" x2="877.5" y2="908.0" stroke="#888" stroke-width="0.9" />
<text x="848.8" y="885.0" font-family="Liberation Sans" font-size="13.5" font-weight="normal" text-anchor="middle" fill="#111">32</text>
<line x1="774.9" y1="963.5" x2="896.4" y2="963.5" stroke="#888" stroke-width="1.0" />
<polygon points="855.9,963.5 845.9,965.9 845.9,961.1" fill="#111" stroke="none" stroke-width="1.0" />
<polygon points="873.7,963.5 883.7,961.1 883.7,965.9" fill="#111" stroke="none" stroke-width="1.0" />
<text x="804.4" y="960.7" font-family="Liberation Sans" font-size="13.8" font-weight="normal" text-anchor="middle" fill="#111" textLength="54.0" lengthAdjust="spacingAndGlyphs">0~10mm</text>
<line x1="819.2" y1="988.5" x2="896.4" y2="988.5" stroke="#888" stroke-width="1.0" />
<polygon points="819.7,988.3 829.7,985.9 829.7,990.7" fill="#111" stroke="none" stroke-width="1.0" />
<polygon points="895.9,988.3 885.9,990.7 885.9,985.9" fill="#111" stroke="none" stroke-width="1.0" />
<line x1="819.5" y1="942.8" x2="819.5" y2="993.0" stroke="#888" stroke-width="0.9" />
<line x1="896.5" y1="944.5" x2="896.5" y2="993.0" stroke="#888" stroke-width="0.9" />
<text x="857.5" y="985.3" font-family="Liberation Sans" font-size="13.5" font-weight="normal" text-anchor="middle" fill="#111">42</text>
</svg></body></html>
